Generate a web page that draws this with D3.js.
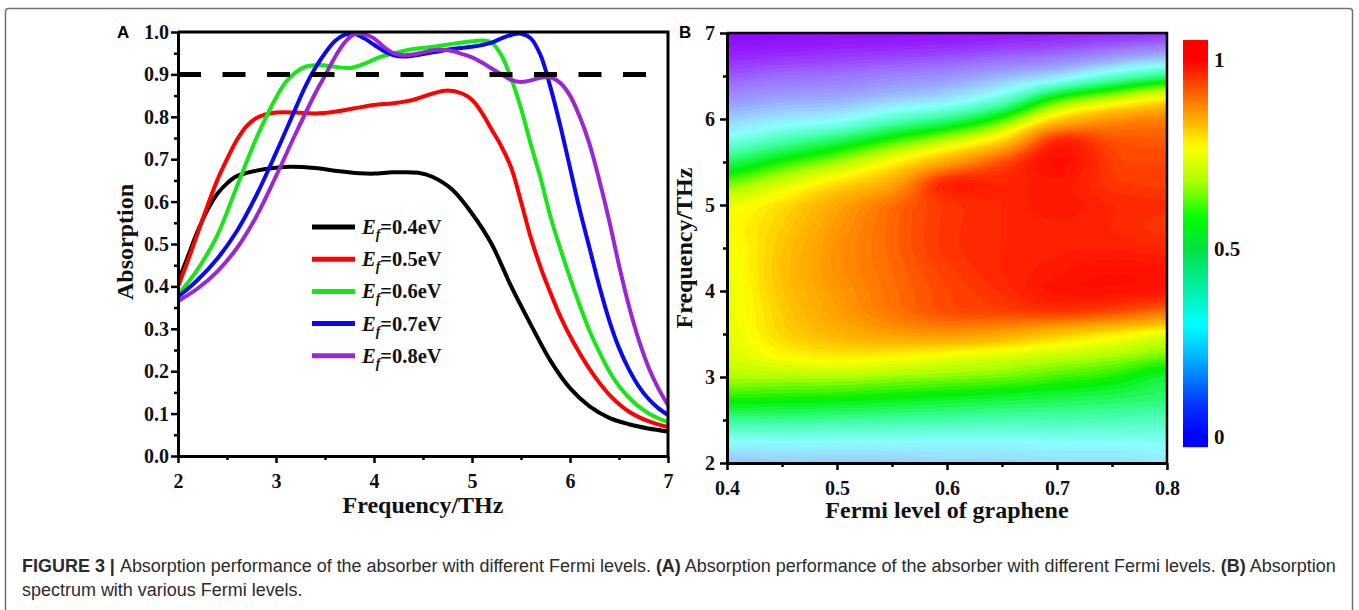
<!DOCTYPE html>
<html>
<head>
<meta charset="utf-8">
<script src="https://cdn.jsdelivr.net/npm/d3@7"></script>
<style>
  body { margin: 0; background: #ffffff; }
  svg { display: block; }
</style>
</head>
<body>
<svg id="fig" width="1359" height="610"></svg>
<script>
// ---------- Panel A: absorption spectra for five Fermi levels ----------
const fermiLabels = ["0.4", "0.5", "0.6", "0.7", "0.8"];
const lineColors = ["#000000", "#ff0000", "#19e619", "#0a0af0", "#9b27d2"];

const freq04 = [2.0, 2.1, 2.2, 2.3, 2.4, 2.5, 2.6, 2.8, 3.0, 3.15, 3.4, 3.6, 3.85, 4.0, 4.2, 4.45, 4.6, 4.8, 5.0, 5.2, 5.4, 5.6, 5.8, 6.0, 6.2, 6.4, 6.6, 6.8, 7.0];
const abs04  = [0.41, 0.47, 0.53, 0.58, 0.618, 0.643, 0.66, 0.673, 0.68, 0.682, 0.679, 0.673, 0.667, 0.666, 0.669, 0.668, 0.658, 0.628, 0.572, 0.50, 0.40, 0.31, 0.225, 0.16, 0.117, 0.09, 0.075, 0.065, 0.058];

const freq05 = [2.0, 2.1, 2.2, 2.3, 2.4, 2.5, 2.6, 2.7, 2.8, 2.9, 3.0, 3.2, 3.4, 3.6, 3.8, 4.0, 4.2, 4.4, 4.6, 4.75, 4.9, 5.0, 5.1, 5.2, 5.3, 5.4, 5.5, 5.6, 5.7, 5.8, 5.9, 6.0, 6.2, 6.4, 6.6, 6.8, 7.0];
const abs05  = [0.40, 0.46, 0.525, 0.59, 0.65, 0.70, 0.745, 0.778, 0.797, 0.806, 0.81, 0.81, 0.808, 0.812, 0.82, 0.828, 0.832, 0.84, 0.855, 0.862, 0.855, 0.84, 0.81, 0.77, 0.73, 0.68, 0.60, 0.515, 0.445, 0.385, 0.33, 0.283, 0.205, 0.145, 0.105, 0.082, 0.068];

const freq06 = [2.0, 2.2, 2.4, 2.6, 2.8, 3.0, 3.1, 3.2, 3.3, 3.45, 3.6, 3.75, 3.9, 4.05, 4.2, 4.4, 4.6, 4.8, 5.0, 5.1, 5.2, 5.3, 5.4, 5.5, 5.6, 5.7, 5.8, 5.9, 6.0, 6.1, 6.2, 6.3, 6.4, 6.5, 6.6, 6.7, 6.8, 6.9, 7.0];
const abs06  = [0.38, 0.44, 0.52, 0.635, 0.75, 0.845, 0.882, 0.905, 0.918, 0.922, 0.918, 0.915, 0.925, 0.94, 0.95, 0.96, 0.965, 0.972, 0.978, 0.98, 0.975, 0.945, 0.89, 0.82, 0.735, 0.655, 0.565, 0.49, 0.42, 0.355, 0.295, 0.245, 0.20, 0.165, 0.138, 0.117, 0.101, 0.089, 0.08];

const freq07 = [2.0, 2.2, 2.4, 2.6, 2.8, 3.0, 3.2, 3.3, 3.4, 3.5, 3.6, 3.7, 3.8, 3.9, 4.0, 4.1, 4.2, 4.3, 4.4, 4.6, 4.8, 5.0, 5.2, 5.3, 5.4, 5.5, 5.6, 5.7, 5.8, 5.9, 6.0, 6.1, 6.2, 6.3, 6.4, 6.5, 6.6, 6.7, 6.8, 6.9, 7.0];
const abs07  = [0.375, 0.415, 0.465, 0.53, 0.615, 0.715, 0.82, 0.872, 0.915, 0.95, 0.978, 0.993, 0.995, 0.985, 0.97, 0.955, 0.945, 0.942, 0.944, 0.952, 0.96, 0.965, 0.975, 0.985, 0.993, 0.996, 0.985, 0.945, 0.87, 0.78, 0.68, 0.58, 0.49, 0.40, 0.32, 0.255, 0.205, 0.165, 0.135, 0.113, 0.097];

const freq08 = [2.0, 2.2, 2.4, 2.6, 2.8, 3.0, 3.2, 3.4, 3.5, 3.6, 3.7, 3.8, 3.9, 4.0, 4.1, 4.2, 4.3, 4.4, 4.5, 4.6, 4.7, 4.8, 4.9, 5.0, 5.1, 5.2, 5.3, 5.4, 5.5, 5.6, 5.7, 5.8, 5.9, 6.0, 6.1, 6.2, 6.3, 6.4, 6.5, 6.6, 6.7, 6.8, 6.9, 7.0];
const abs08  = [0.365, 0.395, 0.435, 0.49, 0.565, 0.66, 0.76, 0.855, 0.897, 0.94, 0.975, 0.995, 0.995, 0.985, 0.965, 0.95, 0.945, 0.947, 0.952, 0.957, 0.958, 0.955, 0.948, 0.94, 0.928, 0.914, 0.90, 0.887, 0.882, 0.886, 0.892, 0.893, 0.88, 0.85, 0.80, 0.735, 0.65, 0.555, 0.45, 0.355, 0.275, 0.21, 0.16, 0.12];

const freqSeries = [freq04, freq05, freq06, freq07, freq08];
const absSeries = [abs04, abs05, abs06, abs07, abs08];
const targetLevel = 0.9;

const freqTicksA = [2, 3, 4, 5, 6, 7];
const freqMinorA = [2.5, 3.5, 4.5, 5.5, 6.5];
const absTicks = [0, 0.1, 0.2, 0.3, 0.4, 0.5, 0.6, 0.7, 0.8, 0.9, 1.0];
const absMinor = [0.05, 0.15, 0.25, 0.35, 0.45, 0.55, 0.65, 0.75, 0.85, 0.95];

// ---------- Panel B: absorption map over Fermi level and frequency ----------
const fermiGrid = [0.40, 0.45, 0.50, 0.55, 0.60, 0.65, 0.70, 0.75, 0.80];
const freqGrid = [2.0, 2.25, 2.5, 2.75, 3.0, 3.25, 3.5, 3.75, 4.0, 4.25, 4.5, 4.75, 5.0, 5.25, 5.5, 5.75, 6.0, 6.25, 6.5, 6.75, 7.0];
// one column per Fermi level, ordered by frequency
const mapE040 = [0.31, 0.38, 0.47, 0.56, 0.63, 0.665, 0.675, 0.68, 0.68, 0.685, 0.69, 0.70, 0.68, 0.60, 0.50, 0.40, 0.32, 0.25, 0.18, 0.12, 0.07];
const mapE045 = [0.32, 0.38, 0.47, 0.555, 0.63, 0.70, 0.74, 0.75, 0.76, 0.765, 0.76, 0.75, 0.73, 0.66, 0.56, 0.45, 0.35, 0.27, 0.20, 0.13, 0.08];
const mapE050 = [0.32, 0.38, 0.465, 0.55, 0.63, 0.72, 0.78, 0.81, 0.82, 0.83, 0.83, 0.82, 0.80, 0.73, 0.62, 0.50, 0.37, 0.28, 0.21, 0.14, 0.09];
const mapE055 = [0.32, 0.38, 0.46, 0.54, 0.62, 0.71, 0.81, 0.86, 0.87, 0.875, 0.88, 0.88, 0.87, 0.80, 0.70, 0.57, 0.43, 0.31, 0.23, 0.15, 0.09];
const mapE060 = [0.33, 0.38, 0.455, 0.53, 0.61, 0.69, 0.82, 0.90, 0.91, 0.92, 0.93, 0.93, 0.93, 0.95, 0.80, 0.64, 0.48, 0.34, 0.25, 0.16, 0.10];
const mapE065 = [0.33, 0.38, 0.45, 0.52, 0.60, 0.67, 0.80, 0.91, 0.94, 0.95, 0.95, 0.95, 0.95, 0.95, 0.90, 0.74, 0.57, 0.41, 0.29, 0.18, 0.11];
const mapE070 = [0.34, 0.385, 0.45, 0.51, 0.58, 0.65, 0.76, 0.92, 0.98, 0.97, 0.96, 0.96, 0.97, 0.97, 0.99, 0.94, 0.74, 0.55, 0.34, 0.20, 0.12];
const mapE075 = [0.34, 0.385, 0.445, 0.50, 0.56, 0.63, 0.72, 0.90, 0.98, 0.985, 0.96, 0.95, 0.95, 0.93, 0.92, 0.90, 0.82, 0.63, 0.42, 0.24, 0.13];
const mapE080 = [0.35, 0.39, 0.44, 0.49, 0.52, 0.60, 0.68, 0.86, 0.97, 0.98, 0.95, 0.93, 0.94, 0.92, 0.91, 0.89, 0.85, 0.70, 0.48, 0.28, 0.14];
const absMap = [mapE040, mapE045, mapE050, mapE055, mapE060, mapE065, mapE070, mapE075, mapE080];

const fermiTicks = [0.4, 0.5, 0.6, 0.7, 0.8];
const fermiMinor = [0.45, 0.55, 0.65, 0.75];
const freqTicksB = [2, 3, 4, 5, 6, 7];
const freqMinorB = [2.5, 3.5, 4.5, 5.5, 6.5];
const colorbarTicks = [0, 0.5, 1];

// colour ramp of the filled map
const fieldStops  = [0.05, 0.12, 0.20, 0.28, 0.34, 0.38, 0.46, 0.55, 0.63, 0.70, 0.76, 0.82, 0.87, 0.90, 0.94, 0.97, 1.00];
const fieldColors = ["#8a00ff", "#9520ff", "#9c6cff", "#9aa8ff", "#98e0ff", "#88ffff", "#40ffa8", "#00f000", "#b0ff00", "#ffff00", "#ffc400", "#ff9a00", "#ff7000", "#ff5000", "#ff2c00", "#ff1800", "#ff0800"];
// colour ramp of the scale bar
const barStops  = [0, 0.08, 0.16, 0.24, 0.30, 0.40, 0.50, 0.58, 0.68, 0.77, 0.84, 0.90, 0.95, 1.0];
const barColors = ["#0000ff", "#0030ff", "#0080ff", "#00d0ff", "#00ffff", "#00f0a0", "#00e040", "#00ff00", "#b0ff00", "#ffff00", "#ffb000", "#ff7000", "#ff3800", "#ff0000"];

// ---------- drawing ----------
const svg = d3.select("#fig");
const serif = "'Liberation Serif','Times New Roman',Times,serif";
const sans = "'Liberation Sans',Arial,Helvetica,sans-serif";

// outer frame of the figure
svg.append("rect")
  .attr("x", 5.5).attr("y", 8.5).attr("width", 1347).attr("height", 640).attr("rx", 3)
  .attr("fill", "none").attr("stroke", "#707070").attr("stroke-width", 1.5);

function styleAxis(g, size) {
  g.attr("font-family", serif).attr("font-size", size).attr("font-weight", "bold");
  g.selectAll("text").attr("fill", "#111");
  g.selectAll("line").attr("stroke", "#000").attr("stroke-width", 2.5);
}

// ===== Panel A =====
const xA = d3.scaleLinear().domain([2, 7]).range([178, 668]);
const yA = d3.scaleLinear().domain([0, 1]).range([456, 32]);

const gA = svg.append("g");
svg.append("defs").append("clipPath").attr("id", "clipA")
  .append("rect").attr("x", xA(2)).attr("y", yA(1) - 4).attr("width", xA(7) - xA(2)).attr("height", yA(0) - yA(1) + 4);

const line = d3.line()
  .x(d => xA(d[0]))
  .y(d => yA(d[1]))
  .curve(d3.curveCatmullRom.alpha(0.5));

const curves = gA.append("g").attr("clip-path", "url(#clipA)");
fermiLabels.forEach((lab, i) => {
  const pts = freqSeries[i].map((f, k) => [f, absSeries[i][k]]);
  curves.append("path")
    .attr("d", line(pts))
    .attr("fill", "none")
    .attr("stroke", lineColors[i])
    .attr("stroke-width", 4)
    .attr("stroke-linejoin", "round");
});

// 90% reference line
gA.append("line")
  .attr("x1", xA(2)).attr("x2", xA(7))
  .attr("y1", yA(targetLevel)).attr("y2", yA(targetLevel))
  .attr("stroke", "#000").attr("stroke-width", 5)
  .attr("stroke-dasharray", "23,21.5");

// axes of panel A
const axAx = gA.append("g").attr("transform", `translate(0,${yA(0)})`)
  .call(d3.axisBottom(xA).tickValues(freqTicksA).tickSize(7).tickSizeOuter(0).tickFormat(d3.format("d")));
styleAxis(axAx, 20);
axAx.select(".domain").attr("stroke", "#000").attr("stroke-width", 3);
axAx.selectAll("text").attr("dy", null).attr("y", 32);
const axAxm = gA.append("g").attr("transform", `translate(0,${yA(0)})`)
  .call(d3.axisBottom(xA).tickValues(freqMinorA).tickSize(4).tickSizeOuter(0).tickFormat(""));
axAxm.select(".domain").remove();
axAxm.selectAll("line").attr("stroke", "#000").attr("stroke-width", 2.5);

const axAy = gA.append("g").attr("transform", `translate(${xA(2)},0)`)
  .call(d3.axisLeft(yA).tickValues(absTicks).tickSize(7).tickPadding(2).tickSizeOuter(0).tickFormat(d3.format(".1f")));
styleAxis(axAy, 20);
axAy.select(".domain").attr("stroke", "#000").attr("stroke-width", 3);
const axAym = gA.append("g").attr("transform", `translate(${xA(2)},0)`)
  .call(d3.axisLeft(yA).tickValues(absMinor).tickSize(4).tickSizeOuter(0).tickFormat(""));
axAym.select(".domain").remove();
axAym.selectAll("line").attr("stroke", "#000").attr("stroke-width", 2.5);

// top and right border of panel A
gA.append("path")
  .attr("d", `M${xA(2)},${yA(1)}H${xA(7)}V${yA(0)}`)
  .attr("fill", "none").attr("stroke", "#000").attr("stroke-width", 3);

// legend of panel A
const legA = gA.append("g");
fermiLabels.forEach((lab, i) => {
  const ly = 227 + i * 32.2;
  legA.append("line")
    .attr("x1", 312).attr("x2", 355).attr("y1", ly).attr("y2", ly)
    .attr("stroke", lineColors[i]).attr("stroke-width", 5);
  const t = legA.append("text")
    .attr("x", 362).attr("y", ly + 7)
    .attr("font-family", serif).attr("font-size", 20.5).attr("font-weight", "bold").attr("fill", "#111");
  t.append("tspan").attr("font-style", "italic").text("E");
  t.append("tspan").attr("font-style", "italic").attr("font-size", 14).attr("dy", 5).text("f");
  t.append("tspan").attr("dy", -5).text("=" + lab + "eV");
});

// titles of panel A
gA.append("text")
  .attr("transform", "translate(133,242) rotate(-90)")
  .attr("text-anchor", "middle")
  .attr("font-family", serif).attr("font-size", 24).attr("font-weight", "bold").attr("fill", "#111")
  .text("Absorption");
gA.append("text")
  .attr("x", (xA(2) + xA(7)) / 2).attr("y", 513)
  .attr("text-anchor", "middle")
  .attr("font-family", serif).attr("font-size", 24).attr("font-weight", "bold").attr("fill", "#111")
  .text("Frequency/THz");
gA.append("text")
  .attr("x", 117).attr("y", 38)
  .attr("font-family", sans).attr("font-size", 17).attr("font-weight", "bold").attr("fill", "#000")
  .text("A");

// ===== Panel B =====
const xB = d3.scaleLinear().domain([0.4, 0.8]).range([727, 1167]);
const yB = d3.scaleLinear().domain([2, 7]).range([463, 33]);
const fieldColor = d3.scaleLinear().domain(fieldStops).range(fieldColors).clamp(true);
const barColor = d3.scaleLinear().domain(barStops).range(barColors).clamp(true);

// smooth resampling of the measured grid (Catmull-Rom in both directions)
function catmull(p0, p1, p2, p3, t) {
  return 0.5 * ((2 * p1) + (-p0 + p2) * t + (2 * p0 - 5 * p1 + 4 * p2 - p3) * t * t + (-p0 + 3 * p1 - 3 * p2 + p3) * t * t * t);
}
function sampleField(u, v) {
  const nC = fermiGrid.length, nR = freqGrid.length;
  const i = Math.min(Math.floor(u), nC - 2), j = Math.min(Math.floor(v), nR - 2);
  const tu = u - i, tv = v - j;
  const cl = (k, n) => Math.max(0, Math.min(n - 1, k));
  const col = [];
  for (let dj = -1; dj <= 2; dj++) {
    const r = cl(j + dj, nR);
    const vals = [-1, 0, 1, 2].map(di => absMap[cl(i + di, nC)][r]);
    col.push(catmull(vals[0], vals[1], vals[2], vals[3], tu));
  }
  return catmull(col[0], col[1], col[2], col[3], tv);
}

const nx = 161, ny = 201;
const fine = new Float64Array(nx * ny);
for (let gy = 0; gy < ny; gy++) {
  const v = gy / (ny - 1) * (freqGrid.length - 1);
  for (let gx = 0; gx < nx; gx++) {
    const u = gx / (nx - 1) * (fermiGrid.length - 1);
    fine[gx + gy * nx] = sampleField(u, v);
  }
}
const levels = d3.range(0, 1.0001, 0.0125);
const contours = d3.contours().size([nx, ny]).thresholds(levels)(fine);

const eMin = fermiGrid[0], eMax = fermiGrid[fermiGrid.length - 1];
const fMin = freqGrid[0], fMax = freqGrid[freqGrid.length - 1];
const gridToPixel = d3.geoTransform({
  point(x, y) {
    const ex = eMin + Math.max(0, Math.min(1, (x - 0.5) / (nx - 1))) * (eMax - eMin);
    const fy = fMin + Math.max(0, Math.min(1, (y - 0.5) / (ny - 1))) * (fMax - fMin);
    this.stream.point(xB(ex), yB(fy));
  }
});
const geo = d3.geoPath(gridToPixel);

svg.select("defs").append("clipPath").attr("id", "clipB")
  .append("rect").attr("x", xB(0.4)).attr("y", yB(7)).attr("width", xB(0.8) - xB(0.4)).attr("height", yB(2) - yB(7));

const gB = svg.append("g");
const field = gB.append("g").attr("clip-path", "url(#clipB)");
field.append("rect")
  .attr("x", xB(0.4)).attr("y", yB(7)).attr("width", xB(0.8) - xB(0.4)).attr("height", yB(2) - yB(7))
  .attr("fill", fieldColor(0));
const step = levels[1] - levels[0];
field.selectAll("path.band")
  .data(contours)
  .join("path")
  .attr("class", "band")
  .attr("d", geo)
  .attr("fill", d => fieldColor(d.value + step / 2))
  .attr("stroke", d => fieldColor(d.value + step / 2))
  .attr("stroke-width", 0.6);

// axes of panel B
const axBx = gB.append("g").attr("transform", `translate(0,${yB(2)})`)
  .call(d3.axisBottom(xB).tickValues(fermiTicks).tickSize(7).tickSizeOuter(0).tickFormat(d3.format(".1f")));
styleAxis(axBx, 20);
axBx.select(".domain").attr("stroke", "#000").attr("stroke-width", 3);
axBx.selectAll("text").attr("dy", null).attr("y", 32);
const axBxm = gB.append("g").attr("transform", `translate(0,${yB(2)})`)
  .call(d3.axisBottom(xB).tickValues(fermiMinor).tickSize(4).tickSizeOuter(0).tickFormat(""));
axBxm.select(".domain").remove();
axBxm.selectAll("line").attr("stroke", "#000").attr("stroke-width", 2.5);

const axBy = gB.append("g").attr("transform", `translate(${xB(0.4)},0)`)
  .call(d3.axisLeft(yB).tickValues(freqTicksB).tickSize(7).tickPadding(5).tickSizeOuter(0).tickFormat(d3.format("d")));
styleAxis(axBy, 20);
axBy.select(".domain").attr("stroke", "#000").attr("stroke-width", 3);
const axBym = gB.append("g").attr("transform", `translate(${xB(0.4)},0)`)
  .call(d3.axisLeft(yB).tickValues(freqMinorB).tickSize(4).tickSizeOuter(0).tickFormat(""));
axBym.select(".domain").remove();
axBym.selectAll("line").attr("stroke", "#000").attr("stroke-width", 2.5);

gB.append("path")
  .attr("d", `M${xB(0.4)},${yB(7)}H${xB(0.8)}V${yB(2)}`)
  .attr("fill", "none").attr("stroke", "#000").attr("stroke-width", 2.5);

// titles of panel B
gB.append("text")
  .attr("transform", "translate(692,248) rotate(-90)")
  .attr("text-anchor", "middle")
  .attr("font-family", serif).attr("font-size", 24).attr("font-weight", "bold").attr("fill", "#111")
  .text("Frequency/THz");
gB.append("text")
  .attr("x", (xB(0.4) + xB(0.8)) / 2).attr("y", 518)
  .attr("text-anchor", "middle")
  .attr("font-family", serif).attr("font-size", 24).attr("font-weight", "bold").attr("fill", "#111")
  .text("Fermi level of graphene");
gB.append("text")
  .attr("x", 679).attr("y", 38)
  .attr("font-family", sans).attr("font-size", 17).attr("font-weight", "bold").attr("fill", "#000")
  .text("B");

// colour scale bar
const cb = d3.scaleLinear().domain([0, 1]).range([437, 60]);
const cbExtent = [-0.027, 1.053];
const grad = svg.select("defs").append("linearGradient")
  .attr("id", "barGrad").attr("x1", 0).attr("y1", 1).attr("x2", 0).attr("y2", 0);
grad.append("stop").attr("offset", 0).attr("stop-color", barColor(0));
d3.range(0, 1.0001, 0.02).forEach(v => {
  grad.append("stop")
    .attr("offset", (v - cbExtent[0]) / (cbExtent[1] - cbExtent[0]))
    .attr("stop-color", barColor(v));
});
grad.append("stop").attr("offset", 1).attr("stop-color", barColor(1));
gB.append("rect")
  .attr("x", 1183).attr("y", cb(cbExtent[1]))
  .attr("width", 25).attr("height", cb(cbExtent[0]) - cb(cbExtent[1]))
  .attr("fill", "url(#barGrad)");
const axCb = gB.append("g").attr("transform", "translate(1208,0)")
  .call(d3.axisRight(cb).tickValues(colorbarTicks).tickSize(0).tickPadding(6).tickFormat(d => d === 0.5 ? "0.5" : String(d)));
axCb.select(".domain").remove();
styleAxis(axCb, 21);

// ---------- caption ----------
const cap = svg.append("g").attr("font-family", sans).attr("fill", "#2b2b2b");
const capParts1 = [
  ["FIGURE 3 | ", true],
  ["Absorption performance of the absorber with different Fermi levels. ", false],
  ["(A)", true],
  [" Absorption performance of the absorber with different Fermi levels. ", false],
  ["(B)", true],
  [" Absorption", false]
];
const capLine2 = "spectrum with various Fermi levels.";
const line1 = cap.append("text").attr("x", 22).attr("y", 572).attr("font-size", 16).attr("xml:space", "preserve");
capParts1.forEach(([txt, bold]) => {
  line1.append("tspan").attr("font-weight", bold ? "bold" : "normal").text(txt);
});
const line2 = cap.append("text").attr("x", 22).attr("y", 596).attr("font-size", 16).text(capLine2);
// fit the first caption line to the text block width
const w1 = line1.node().getComputedTextLength();
const fitSize = 16 * (1337 - 22) / w1;
line1.attr("font-size", fitSize);
line2.attr("font-size", fitSize);
</script>
</body>
</html>
